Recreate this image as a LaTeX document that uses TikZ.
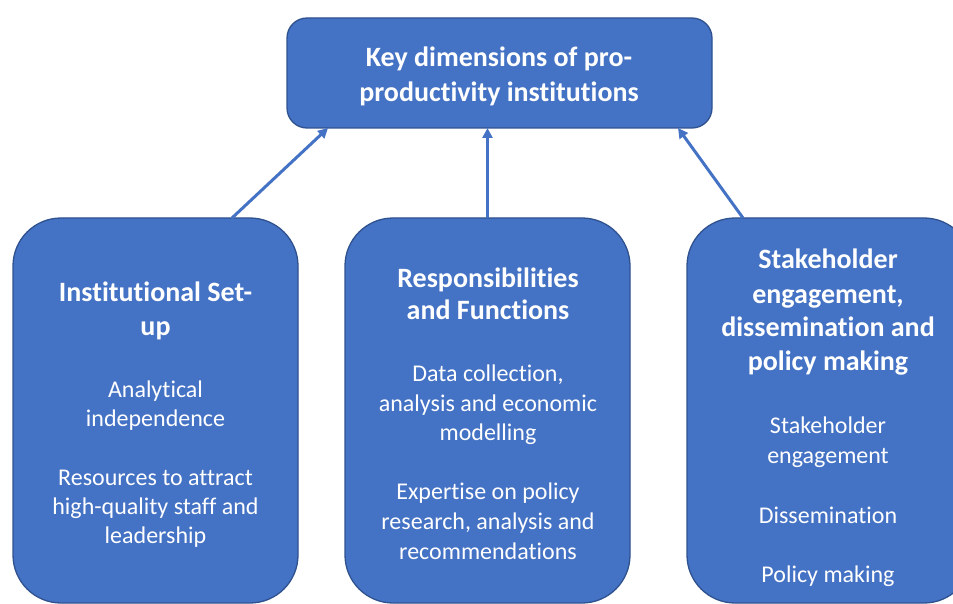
\documentclass[tikz,border=0pt]{standalone}
\usepackage{fontspec}
\setmainfont{Carlito}[RawFeature={-liga}]
\usetikzlibrary{arrows.meta}
\definecolor{boxfill}{HTML}{4472C4}
\definecolor{boxline}{HTML}{2F528F}
\tikzset{
  panel/.style={draw=boxline, fill=boxfill, line width=1.3pt, rectangle, inner sep=0pt, outer sep=0pt},
  headtxt/.style={anchor=base, inner sep=0pt, text=white, font=\fontsize{28}{34}\selectfont\bfseries},
  bodytxt/.style={anchor=base, inner sep=0pt, text=white, font=\fontsize{24}{29}\selectfont},
  link/.style={draw=boxfill, line width=3pt, -{Triangle[length=10pt,width=10pt]}}
}
\begin{document}
\begin{tikzpicture}[x=1pt,y=-1pt]
\useasboundingbox (0,0) rectangle (953,604);
\clip (0,0) rectangle (953,604);
% boxes
\node[panel, rounded corners=20pt, minimum width=425pt, minimum height=110pt] (top) at (499.5,73) {};
\node[panel, rounded corners=48pt, minimum width=285pt, minimum height=385pt] (left) at (155.5,410.5) {};
\node[panel, rounded corners=48pt, minimum width=285pt, minimum height=385pt] (mid) at (487.5,410.5) {};
\node[panel, rounded corners=48pt, minimum width=285pt, minimum height=385pt] (right) at (829.5,410.5) {};
% top text
\node[headtxt] (t1) at (499,67) {Key dimensions of pro-};
\node[headtxt] (t2) at (499,102) {productivity institutions};
% left text
\node[headtxt] (l1) at (155.5,301.5) {Institutional Set-};
\node[headtxt] (l2) at (155.5,335) {up};
\node[bodytxt] (l3) at (155.5,397) {Analytical};
\node[bodytxt] (l4) at (155.5,426) {independence};
\node[bodytxt] (l5) at (155.5,485) {Resources to attract};
\node[bodytxt] (l6) at (155.5,514) {high-quality staff and};
\node[bodytxt] (l7) at (155.5,543) {leadership};
% middle text
\node[headtxt] (m1) at (488,287) {Responsibilities};
\node[headtxt] (m2) at (488,319) {and Functions};
\node[bodytxt] (m3) at (488,381.5) {Data collection,};
\node[bodytxt] (m4) at (488,411) {analysis and economic};
\node[bodytxt] (m5) at (488,440) {modelling};
\node[bodytxt] (m6) at (488,499.5) {Expertise on policy};
\node[bodytxt] (m7) at (488,529) {research, analysis and};
\node[bodytxt] (m8) at (488,559) {recommendations};
% right text
\node[headtxt] (r1) at (828,268) {Stakeholder};
\node[headtxt] (r2) at (828,303) {engagement,};
\node[headtxt] (r3) at (828,336.5) {dissemination and};
\node[headtxt] (r4) at (828,370) {policy making};
\node[bodytxt] (r5) at (828,433) {Stakeholder};
\node[bodytxt] (r6) at (828,463) {engagement};
\node[bodytxt] (r7) at (828,523) {Dissemination};
\node[bodytxt] (r8) at (828,582) {Policy making};
% connectors
\draw[link] ([xshift=76.5pt]left.north) -- ([xshift=-171.5pt]top.south);
\draw[link] (mid.north) -- (top.south -| mid.north);
\draw[link] ([xshift=-86.5pt]right.north) -- ([xshift=178.5pt]top.south);
\end{tikzpicture}
\end{document}
